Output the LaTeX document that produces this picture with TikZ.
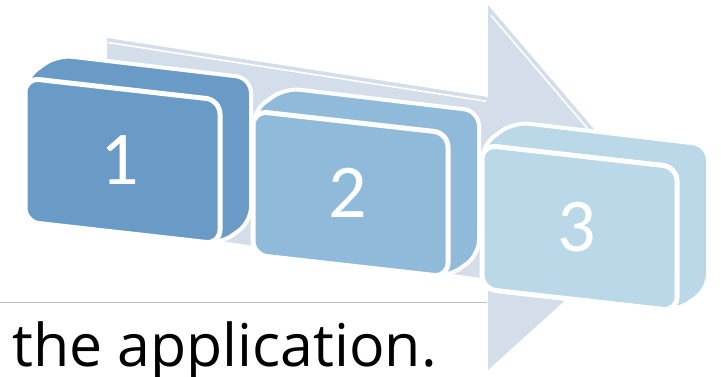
\documentclass[tikz,border=0pt]{standalone}
\usepackage{fontspec}
\setmainfont{Open Sans}
\newfontfamily\digitfont{Carlito}
\definecolor{boxA}{HTML}{6A9BC6}
\definecolor{boxB}{HTML}{90BAD9}
\definecolor{boxC}{HTML}{BAD8E8}
\definecolor{arrowfill}{HTML}{D4DEEA}
\definecolor{rulegray}{HTML}{BFBFBF}
\newcommand{\cubebox}[5]{%
  % #1,#2 = front top-left; #3 = colour; #4 = node name; #5 = label
  \fill[#3, draw=white, line width=4pt, rounded corners=15pt]
    (#1,{#2+144}) -- (#1,#2) -- ({#1+32},{#2-23}) -- ({#1+226},{#2})
    -- ({#1+226},{#2+144}) -- ({#1+195},{#2+166}) -- cycle;
  \fill[#3, draw=white, line width=5pt, rounded corners=14pt]
    (#1,#2) -- ({#1+195},{#2+22}) -- ({#1+195},{#2+166}) -- (#1,{#2+144}) -- cycle;
  \node[digitstyle] (#4) at ({#1+95},{#2+82}) {#5};
}
\tikzset{
  digitstyle/.style={font=\digitfont\fontsize{76}{76}\selectfont, text=white, inner sep=0pt},
  captionstyle/.style={font=\fontsize{59}{62}\selectfont, text=black, inner sep=0pt, anchor=base west},
  insetline/.style={white, line width=1.6pt}
}
\begin{document}
\begin{tikzpicture}[x=1pt,y=-1pt]
\useasboundingbox (0,0) rectangle (721,376);
% horizontal rule
\draw[rulegray, line width=1.6pt] (0,302.5) -- (487,302.5);
% big arrow
\fill[arrowfill] (107,38) -- (488,97) -- (488,5) -- (664,211) -- (488,370)
  -- (488,279) -- (107,225) -- cycle;
\draw[insetline] (108,42.5) -- (486,101.2);
\draw[insetline] (491.1,15.5) -- (614.4,159.9);
% boxes
\cubebox{25}{78}{boxA}{n1}{1}
\cubebox{253}{111}{boxB}{n2}{2}
\cubebox{482}{145}{boxC}{n3}{3}
% caption
\node[captionstyle] (cap) at (12,366) {the application.};
\end{tikzpicture}
\end{document}
